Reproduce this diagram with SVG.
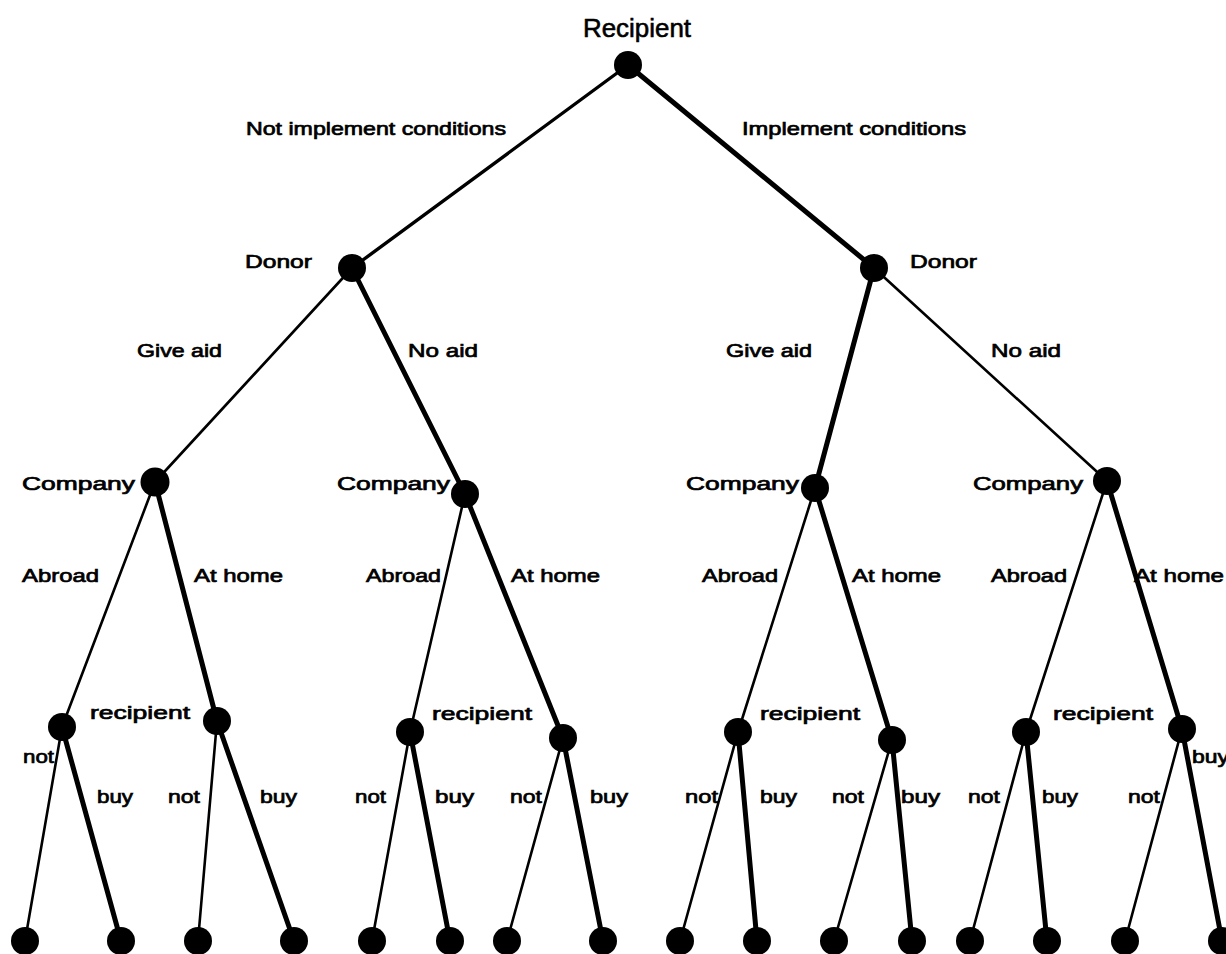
<svg xmlns="http://www.w3.org/2000/svg" width="1226" height="954" viewBox="0 0 1226 954">
  <style>
    text { font-family: "Liberation Sans", Arial, sans-serif; font-size: 18.5px; fill: #000; stroke: #000; stroke-width: 0.7px; }
    .title { font-size: 26px; stroke-width: 0.6px; }
    .thin { stroke: #000; stroke-width: 2.6; fill: none; stroke-linecap: round; }
    .mid { stroke: #000; stroke-width: 3.4; fill: none; stroke-linecap: round; }
    .thick { stroke: #000; stroke-width: 5; fill: none; stroke-linecap: round; }
    .node { fill: #000; }
  </style>
  <rect width="1226" height="954" fill="#fff"/>

  <!-- edges of the game tree -->
  <g id="connectors">
    <!-- root -->
    <line class="mid" x1="628" y1="65" x2="352" y2="268"/>
    <line class="thick" x1="628" y1="65" x2="874" y2="268"/>
    <!-- donors -->
    <line class="thin" x1="352" y1="268" x2="155" y2="482"/>
    <line class="thick" x1="352" y1="268" x2="465" y2="494"/>
    <line class="thick" x1="874" y1="268" x2="815" y2="488"/>
    <line class="thin" x1="874" y1="268" x2="1107" y2="481"/>
    <!-- companies -->
    <line class="thin" x1="155" y1="482" x2="62" y2="727"/>
    <line class="thick" x1="155" y1="482" x2="217" y2="721"/>
    <line class="thin" x1="465" y1="494" x2="410" y2="732"/>
    <line class="thick" x1="465" y1="494" x2="563" y2="738"/>
    <line class="thin" x1="815" y1="488" x2="738" y2="732"/>
    <line class="thick" x1="815" y1="488" x2="892" y2="740"/>
    <line class="thin" x1="1107" y1="481" x2="1026" y2="732"/>
    <line class="thick" x1="1107" y1="481" x2="1182" y2="729"/>
    <!-- recipients -->
    <line class="thin" x1="62" y1="727" x2="25" y2="941"/>
    <line class="thick" x1="62" y1="727" x2="121" y2="941"/>
    <line class="thin" x1="217" y1="721" x2="198" y2="941"/>
    <line class="thick" x1="217" y1="721" x2="294" y2="941"/>
    <line class="thin" x1="410" y1="732" x2="372" y2="941"/>
    <line class="thick" x1="410" y1="732" x2="450" y2="941"/>
    <line class="thin" x1="563" y1="738" x2="507" y2="941"/>
    <line class="thick" x1="563" y1="738" x2="603" y2="941"/>
    <line class="thin" x1="738" y1="732" x2="680" y2="941"/>
    <line class="thick" x1="738" y1="732" x2="757" y2="941"/>
    <line class="thin" x1="892" y1="740" x2="834" y2="941"/>
    <line class="thick" x1="892" y1="740" x2="912" y2="941"/>
    <line class="thin" x1="1026" y1="732" x2="970" y2="941"/>
    <line class="thick" x1="1026" y1="732" x2="1047" y2="941"/>
    <line class="thin" x1="1182" y1="729" x2="1125" y2="941"/>
    <line class="thick" x1="1182" y1="729" x2="1222" y2="941"/>
  </g>

  <!-- edge labels -->
  <g id="edge-labels">
    <text x="246" y="135" textLength="260" lengthAdjust="spacingAndGlyphs">Not implement conditions</text>
    <text x="742" y="135" textLength="224" lengthAdjust="spacingAndGlyphs">Implement conditions</text>
    <text x="137" y="357" textLength="85" lengthAdjust="spacingAndGlyphs">Give aid</text>
    <text x="408" y="357" textLength="70" lengthAdjust="spacingAndGlyphs">No aid</text>
    <text x="726" y="357" textLength="86" lengthAdjust="spacingAndGlyphs">Give aid</text>
    <text x="991" y="357" textLength="70" lengthAdjust="spacingAndGlyphs">No aid</text>

    <text x="22" y="582" textLength="77" lengthAdjust="spacingAndGlyphs">Abroad</text>
    <text x="194" y="582" textLength="89" lengthAdjust="spacingAndGlyphs">At home</text>
    <text x="366" y="582" textLength="75" lengthAdjust="spacingAndGlyphs">Abroad</text>
    <text x="511" y="582" textLength="89" lengthAdjust="spacingAndGlyphs">At home</text>
    <text x="702" y="582" textLength="76" lengthAdjust="spacingAndGlyphs">Abroad</text>
    <text x="852" y="582" textLength="89" lengthAdjust="spacingAndGlyphs">At home</text>
    <text x="991" y="582" textLength="76" lengthAdjust="spacingAndGlyphs">Abroad</text>
    <text x="1134" y="582" textLength="90" lengthAdjust="spacingAndGlyphs">At home</text>

    <text x="23" y="763" textLength="31" lengthAdjust="spacingAndGlyphs">not</text>
    <text x="97" y="803" textLength="36" lengthAdjust="spacingAndGlyphs">buy</text>
    <text x="168" y="803" textLength="32" lengthAdjust="spacingAndGlyphs">not</text>
    <text x="260" y="803" textLength="37" lengthAdjust="spacingAndGlyphs">buy</text>
    <text x="355" y="803" textLength="31" lengthAdjust="spacingAndGlyphs">not</text>
    <text x="435" y="803" textLength="39" lengthAdjust="spacingAndGlyphs">buy</text>
    <text x="510" y="803" textLength="32" lengthAdjust="spacingAndGlyphs">not</text>
    <text x="590" y="803" textLength="38" lengthAdjust="spacingAndGlyphs">buy</text>
    <text x="685" y="803" textLength="33" lengthAdjust="spacingAndGlyphs">not</text>
    <text x="760" y="803" textLength="37" lengthAdjust="spacingAndGlyphs">buy</text>
    <text x="832" y="803" textLength="32" lengthAdjust="spacingAndGlyphs">not</text>
    <text x="901" y="803" textLength="39" lengthAdjust="spacingAndGlyphs">buy</text>
    <text x="968" y="803" textLength="32" lengthAdjust="spacingAndGlyphs">not</text>
    <text x="1042" y="803" textLength="36" lengthAdjust="spacingAndGlyphs">buy</text>
    <text x="1128" y="803" textLength="32" lengthAdjust="spacingAndGlyphs">not</text>
    <text x="1192" y="763" textLength="37" lengthAdjust="spacingAndGlyphs">buy</text>
  </g>

  <!-- decision nodes -->
  <g id="root">
    <circle class="node" cx="628" cy="65" r="14"/>
    <text class="title" x="583" y="37" textLength="108" lengthAdjust="spacingAndGlyphs">Recipient</text>
  </g>
  <g id="donor-left">
    <circle class="node" cx="352" cy="268" r="14"/>
    <text x="245" y="268" textLength="67" lengthAdjust="spacingAndGlyphs">Donor</text>
  </g>
  <g id="donor-right">
    <circle class="node" cx="874" cy="268" r="14"/>
    <text x="910" y="268" textLength="67" lengthAdjust="spacingAndGlyphs">Donor</text>
  </g>
  <g id="company-1">
    <circle class="node" cx="155" cy="482" r="14.5"/>
    <text x="22" y="490" textLength="113" lengthAdjust="spacingAndGlyphs">Company</text>
  </g>
  <g id="company-2">
    <circle class="node" cx="465" cy="494" r="14"/>
    <text x="337" y="490" textLength="113" lengthAdjust="spacingAndGlyphs">Company</text>
  </g>
  <g id="company-3">
    <circle class="node" cx="815" cy="488" r="14"/>
    <text x="686" y="490" textLength="113" lengthAdjust="spacingAndGlyphs">Company</text>
  </g>
  <g id="company-4">
    <circle class="node" cx="1107" cy="481" r="14"/>
    <text x="973" y="490" textLength="110" lengthAdjust="spacingAndGlyphs">Company</text>
  </g>
  <g id="recipient-1">
    <circle class="node" cx="62" cy="727" r="14"/>
    <text x="90" y="719" textLength="100" lengthAdjust="spacingAndGlyphs">recipient</text>
  </g>
  <g id="recipient-2">
    <circle class="node" cx="217" cy="721" r="14"/>
  </g>
  <g id="recipient-3">
    <circle class="node" cx="410" cy="732" r="14"/>
    <text x="432" y="720" textLength="100" lengthAdjust="spacingAndGlyphs">recipient</text>
  </g>
  <g id="recipient-4">
    <circle class="node" cx="563" cy="738" r="14"/>
  </g>
  <g id="recipient-5">
    <circle class="node" cx="738" cy="732" r="14"/>
    <text x="760" y="720" textLength="100" lengthAdjust="spacingAndGlyphs">recipient</text>
  </g>
  <g id="recipient-6">
    <circle class="node" cx="892" cy="740" r="14"/>
  </g>
  <g id="recipient-7">
    <circle class="node" cx="1026" cy="732" r="14"/>
    <text x="1053" y="720" textLength="100" lengthAdjust="spacingAndGlyphs">recipient</text>
  </g>
  <g id="recipient-8">
    <circle class="node" cx="1182" cy="729" r="14"/>
  </g>

  <!-- terminal nodes -->
  <g id="leaves">
    <circle class="node" cx="25" cy="941" r="14"/>
    <circle class="node" cx="121" cy="941" r="14"/>
    <circle class="node" cx="198" cy="941" r="14"/>
    <circle class="node" cx="294" cy="941" r="14"/>
    <circle class="node" cx="372" cy="941" r="14"/>
    <circle class="node" cx="450" cy="941" r="14"/>
    <circle class="node" cx="507" cy="941" r="14"/>
    <circle class="node" cx="603" cy="941" r="14"/>
    <circle class="node" cx="680" cy="941" r="14"/>
    <circle class="node" cx="757" cy="941" r="14"/>
    <circle class="node" cx="834" cy="941" r="14"/>
    <circle class="node" cx="912" cy="941" r="14"/>
    <circle class="node" cx="970" cy="941" r="14"/>
    <circle class="node" cx="1047" cy="941" r="14"/>
    <circle class="node" cx="1125" cy="941" r="14"/>
    <circle class="node" cx="1222" cy="941" r="14"/>
  </g>
</svg>
